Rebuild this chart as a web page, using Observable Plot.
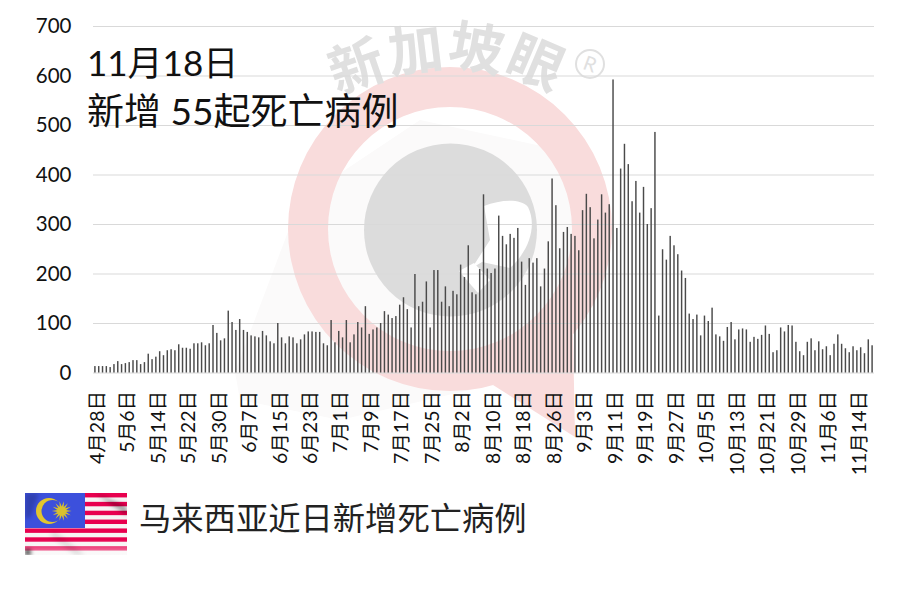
<!DOCTYPE html>
<html lang="zh">
<head>
<meta charset="utf-8">
<script src="https://cdn.jsdelivr.net/npm/d3@7"></script>
<script src="https://cdn.jsdelivr.net/npm/@observablehq/plot@0.6"></script>
<style>
html,body{margin:0;padding:0;background:#fff;width:903px;height:591px;overflow:hidden;}
body{position:relative;font-family:"Lato","Noto Sans CJK SC",sans-serif;color:#111;}
#wm{position:absolute;left:0;top:0;z-index:0;overflow:visible;}
#chart{position:absolute;left:0;top:0;z-index:1;}
#chart svg{background:transparent;display:block;}
.title{position:absolute;z-index:2;left:87px;line-height:47px;white-space:pre;color:#111;font-family:"Lato","Noto Sans CJK SC",sans-serif;}
#caption{position:absolute;z-index:2;left:139px;top:494px;font-size:32.3px;line-height:44px;color:#222;white-space:pre;font-family:"Noto Sans CJK SC",sans-serif;}
#flag{position:absolute;left:25px;top:493px;z-index:2;}
</style>
</head>
<body>
<svg id="wm" width="903" height="591" viewBox="0 0 903 591" aria-hidden="true">
  <path d="M235 372 L300 200 L420 120 L560 150 L600 230 L560 340 L470 390 L340 420 L240 400Z" fill="#fbfafa"/>
  <path d="M493 385 L575 437 L573 334Z" fill="#f9dcdc"/>
  <path fill-rule="evenodd" fill="#f9dcdc" d="M288 229a162 162 0 1 0 324 0a162 162 0 1 0 -324 0Z M328 229a122 122 0 1 0 244 0a122 122 0 1 0 -244 0Z"/>
  <circle cx="450.5" cy="230" r="86.5" fill="#dcdcdc"/>
  <path d="M484 206 C500 200 520 198 528 207 C537 225 530 250 510 268 L482 262 L472 268 L490 240Z" fill="#fff"/>
  <path d="M459 271 L474 263 L490 280 L478 293Z" fill="#fff"/>
  <g fill="#e0e0e0" font-family="'Noto Sans CJK SC',sans-serif" font-weight="700" font-size="55" text-anchor="middle">
    <text transform="translate(363,85) rotate(-19)">新</text>
    <text transform="translate(418,70) rotate(-7)">加</text>
    <text transform="translate(473,68) rotate(10)">坡</text>
    <text transform="translate(528,81) rotate(23)">眼</text>
  </g>
  <circle cx="590" cy="64" r="14" fill="none" stroke="#e0e0e0" stroke-width="2"/>
  <text x="590" y="71" text-anchor="middle" fill="#e0e0e0" font-family="Lato,sans-serif" font-size="20" transform="rotate(20 590 64)">R</text>
</svg>
<div id="chart"></div>
<div class="title" style="top:39px;font-size:35px">11月18日</div>
<div class="title" style="top:87px;font-size:37px">新增 55起死亡病例</div>
<svg id="flag" width="102" height="62" viewBox="0 0 102 62" aria-hidden="true">
  <defs>
    <filter id="soft" x="-30%" y="-30%" width="160%" height="160%"><feGaussianBlur stdDeviation="2.2"/></filter>
    <linearGradient id="fade" x1="0" y1="0" x2="0" y2="1">
      <stop offset=".75" stop-color="#fff" stop-opacity="0"/>
      <stop offset="1" stop-color="#fff" stop-opacity=".55"/>
    </linearGradient>
  </defs>
  <rect width="102" height="62" fill="#f6f4f4"/>
  <g fill="#e8004f" id="stripes"></g>
  <rect width="60" height="35" fill="#3c50dc"/>
  <circle cx="24" cy="18" r="13" fill="#e2c52e"/>
  <circle cx="27.5" cy="18" r="11" fill="#3c50dc"/>
  <polygon id="sun" fill="#d8c12e"></polygon>
  <rect width="102" height="62" fill="url(#fade)"/>
  <g filter="url(#soft)" fill="#000">
    <path d="M70 0 L102 14 L102 22 L84 10Z" opacity=".35"/>
    <path d="M0 57 L5 56 L6 62 L0 62Z" opacity=".8"/>
    <path d="M30 38 L60 62 L50 62 L24 42Z" opacity=".1"/>
    <path d="M0 0 L14 0 L6 24 L0 26Z" opacity=".2"/>
  </g>
</svg>
<div id="caption">马来西亚近日新增死亡病例</div>
<script>
const tickLabels = ["4月28日","5月6日","5月14日","5月22日","5月30日","6月7日","6月15日","6月23日","7月1日","7月9日","7月17日","7月25日","8月2日","8月10日","8月18日","8月26日","9月3日","9月11日","9月19日","9月27日","10月5日","10月13日","10月21日","10月29日","11月6日","11月14日"];
const yTicks = [0,100,200,300,400,500,600,700];
const dailyDeaths = [
13,13,13,13,11,17,23,17,19,21,25,25,17,21,38,27,32,43,35,45,
47,45,57,50,50,48,59,59,61,55,59,96,80,65,69,125,102,86,108,86,
82,75,73,71,84,75,63,59,100,71,59,73,71,59,67,77,83,83,82,82,
59,55,106,61,84,71,106,61,77,
102,91,134,78,87,91,100,124,117,110,114,137,152,128,91,199,134,143,184,91,
207,207,143,174,134,165,158,218,193,257,162,158,209,360,210,201,210,317,276,259,
280,272,292,224,177,231,222,231,174,210,265,392,338,251,284,294,280,276,247,328,
361,334,271,309,
360,323,340,592,292,412,462,421,346,387,323,375,300,332,486,115,249,228,276,257,
239,206,191,119,108,117,75,115,104,131,77,73,64,92,
102,67,87,89,87,62,72,68,76,95,78,41,45,91,83,96,95,62,43,35,
62,69,45,63,47,53,35,58,77,58,49,41,53,45,51,39,67,55
];
const fmt = d => `${d.getUTCMonth()+1}月${d.getUTCDate()}日`;
const days = d3.utcDay.range(new Date(Date.UTC(2021,3,28)), new Date(Date.UTC(2021,10,19))).map(fmt);
const rows = days.map((day,i)=>({day, deaths: dailyDeaths[i]}));

const plot = Plot.plot({
  width: 903,
  height: 480,
  marginTop: 26,
  marginBottom: 107.5,
  marginLeft: 93,
  marginRight: 29,
  style: {background:"transparent", fontFamily:'"Lato","Noto Sans CJK SC",sans-serif', color:"#111"},
  x: {type:"band", domain: days, paddingInner:0.62, paddingOuter:0.31, round:false, label:null},
  y: {domain:[0,700], label:null},
  marks: [
    Plot.ruleY(yTicks, {stroke:"#d9d9d9", strokeWidth:1.2}),
    Plot.barY(rows, {x:"day", y:"deaths", fill:"#4a4a4a"}),
    Plot.axisY({ticks:yTicks, tickSize:0, tickPadding:22, fontSize:20.5, label:null, fill:"#111"}),
    Plot.axisX({ticks:tickLabels, tickSize:0, tickPadding:18, tickRotate:-90, fontSize:19.5, dx:2, label:null, fill:"#111"})
  ]
});
document.getElementById("chart").appendChild(plot);

// flag decoration
const st = document.getElementById("stripes");
for (let i=0;i<7;i++){
  const r=document.createElementNS("http://www.w3.org/2000/svg","rect");
  r.setAttribute("x",0);r.setAttribute("width",102);
  r.setAttribute("y",i*8.86);r.setAttribute("height",4.43);
  st.appendChild(r);
}
const pts=[];
for(let i=0;i<28;i++){const a=i*Math.PI/14,R=i%2?4.5:10;pts.push((36.7+R*Math.cos(a)).toFixed(1)+","+(18+R*Math.sin(a)).toFixed(1));}
document.getElementById("sun").setAttribute("points",pts.join(" "));
</script>
</body>
</html>
